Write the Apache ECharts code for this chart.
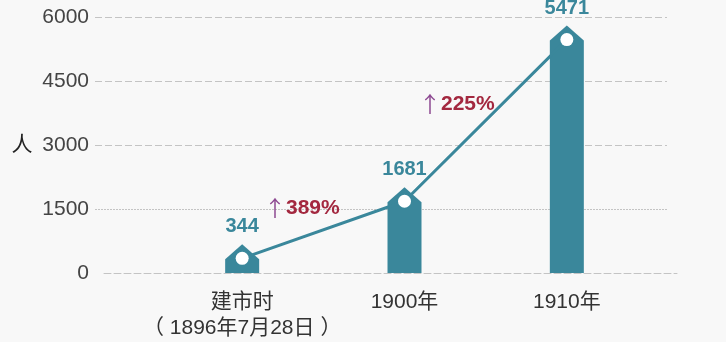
<!DOCTYPE html>
<html>
<head>
<meta charset="utf-8">
<script src="https://cdn.jsdelivr.net/npm/echarts@6/dist/echarts.min.js"></script>
<style>
html,body{margin:0;padding:0;background:#f8f8f8;}
#chart{width:726px;height:342px;}
</style>
</head>
<body>
<div id="chart"></div>
<script>
var categories = ['建市时\n（ 1896年7月28日 ）', '1900年', '1910年'];
var population = [344, 1681, 5471];
var growthLabels = ['389%', '225%'];
var yTicks = [0, 1500, 3000, 4500, 6000];

var FONT = "'Liberation Sans','Noto Sans CJK SC',sans-serif";
var CJK = "'Noto Sans CJK SC',sans-serif";
var TEAL = '#3a879b';
var GRID_C = '#c4c4c4';
var T = 'rgba(0,0,0,0)';

var chart = echarts.init(document.getElementById('chart'));
var top_ = 17, bottom_ = 69;

function growthText(label, x, y) {
  return { type: 'text', left: x, top: y, z: 10,
    style: { text: '{a|↑}{b|' + label + '}', font: '20px ' + FONT,
      rich: { a: { fill: '#8e4a92', fontSize: 22, fontFamily: CJK },
              b: { fill: '#a3283f', fontSize: 21, fontWeight: 'bold', fontFamily: FONT } } } };
}

chart.setOption({
  backgroundColor: '#f8f8f8',
  animation: false,
  textStyle: { fontFamily: FONT },
  grid: [
    { left: 95, right: 59, top: top_, bottom: bottom_ },
    { left: 161, right: 78, top: top_, bottom: bottom_ },
    { left: 104, right: 49, top: top_, bottom: bottom_ }
  ],
  xAxis: [
    { gridIndex: 0, type: 'value', show: false, min: 0, max: 1 },
    { gridIndex: 1, type: 'category', data: categories,
      axisLine: { show: false }, axisTick: { show: false },
      axisLabel: { color: '#333', fontSize: 21, lineHeight: 26, margin: 16, fontFamily: FONT, interval: 0 } },
    { gridIndex: 2, type: 'value', min: 0, max: 1,
      axisLine: { show: true, lineStyle: { color: GRID_C, type: [7, 3], width: 1 } },
      axisTick: { show: false }, axisLabel: { show: false }, splitLine: { show: false } }
  ],
  yAxis: [
    { gridIndex: 0, type: 'value', min: yTicks[0], max: yTicks[yTicks.length - 1], interval: 1500,
      name: '人', nameLocation: 'middle', nameRotate: 0, nameGap: 73,
      nameTextStyle: { color: '#222', fontSize: 21, align: 'center', verticalAlign: 'middle', fontFamily: FONT },
      axisLine: { show: false }, axisTick: { show: false },
      axisLabel: { color: '#444', fontSize: 21, margin: 6, fontFamily: FONT,
        formatter: function (v) { return String(v); } },
      splitLine: { show: true, lineStyle: { color: [T, T, GRID_C, GRID_C, GRID_C], type: [7, 3], width: 1 } } },
    { gridIndex: 0, type: 'value', position: 'left', min: 0, max: 6000, interval: 1500,
      axisLine: { show: false }, axisTick: { show: false }, axisLabel: { show: false },
      splitLine: { show: true, lineStyle: { color: [T, GRID_C, T, T, T], type: [2, 1], width: 1 } } },
    { gridIndex: 1, type: 'value', min: 0, max: 6000, show: false },
    { gridIndex: 2, type: 'value', min: 0, max: 1, show: false }
  ],
  series: [
    {
      type: 'custom',
      xAxisIndex: 1, yAxisIndex: 2,
      data: population.map(function (v, i) { return [i, v]; }),
      encode: { x: 0, y: 1 },
      z: 2,
      renderItem: function (params, api) {
        var p = api.coord([api.value(0), api.value(1)]);
        var base = api.coord([api.value(0), 0]);
        var w = 34, cx = p[0];
        var shoulder = Math.min(p[1] + 1, base[1] - 6);
        var peak = shoulder - 15;
        return {
          type: 'polygon',
          shape: { points: [
            [cx - w / 2, base[1]], [cx - w / 2, shoulder], [cx, peak],
            [cx + w / 2, shoulder], [cx + w / 2, base[1]]
          ] },
          style: { fill: TEAL }
        };
      }
    },
    {
      type: 'line',
      xAxisIndex: 1, yAxisIndex: 2,
      data: population,
      z: 3,
      symbol: 'circle', symbolSize: 13,
      lineStyle: { color: TEAL, width: 3 },
      itemStyle: { color: '#fff', borderWidth: 0 },
      label: { show: true, position: 'top', distance: 15, color: TEAL, fontSize: 20, fontWeight: 'bold', fontFamily: FONT }
    }
  ],
  graphic: [
    growthText(growthLabels[0], 264, 197),
    growthText(growthLabels[1], 419, 93)
  ]
});
</script>
</body>
</html>
